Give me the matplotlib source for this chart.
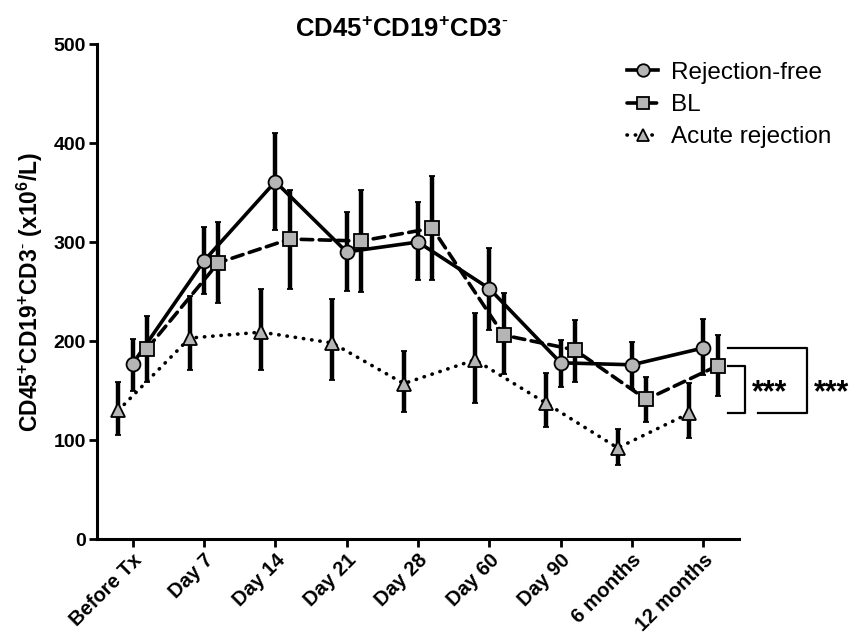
import numpy as np
from matplotlib import pyplot as plt
from matplotlib.lines import Line2D

plt.rcParams['font.family'] = ['Liberation Sans', 'DejaVu Sans']
plt.rcParams['mathtext.fontset'] = 'custom'
plt.rcParams['mathtext.rm'] = 'Liberation Sans'
plt.rcParams['mathtext.bf'] = 'Liberation Sans:bold'
plt.rcParams['mathtext.it'] = 'Liberation Sans:italic'

timepoints = ['Before Tx', 'Day 7', 'Day 14', 'Day 21', 'Day 28',
              'Day 60', 'Day 90', '6 months', '12 months']

# mean, upper and lower ends of the error bars (x10^6/L)
free_mean = [177, 281, 361, 290, 300, 253, 178, 176, 193]
free_hi = [202, 315, 410, 330, 340, 294, 201, 199, 222]
free_lo = [150, 247, 312, 251, 262, 211, 154, 152, 166]

bl_mean = [192, 279, 303, 301, 314, 206, 191, 141, 175]
bl_hi = [225, 320, 353, 353, 367, 249, 221, 164, 206]
bl_lo = [159, 238, 253, 250, 262, 167, 159, 118, 144]

acute_mean = [130, 203, 209, 198, 157, 181, 137, 92, 127]
acute_hi = [159, 245, 253, 242, 190, 228, 168, 111, 158]
acute_lo = [105, 171, 171, 161, 128, 137, 113, 75, 102]

x = np.arange(len(timepoints))
gray = '#b5b5b5'

fig = plt.figure(figsize=(8.56, 6.37), dpi=100)
ax = fig.add_axes([0.1133, 0.1538, 0.75, 0.7771])

series = [
    ('Rejection-free', free_mean, free_hi, free_lo, 'o', '-', 0.0),
    ('BL', bl_mean, bl_hi, bl_lo, 's', (0, (3.2, 1.8)), 0.2),
    ('Acute rejection', acute_mean, acute_hi, acute_lo, '^', (0, (0.1, 2.2)), -0.2),
]

handles = []
for label, mean, hi, lo, marker, ls, shift in series:
    mean = np.array(mean)
    yerr = [mean - np.array(lo), np.array(hi) - mean]
    line, caps, bars = ax.errorbar(
        x + shift, mean, yerr=yerr, marker=marker, ls=ls, lw=2.6,
        color='black', mfc=gray, mec='black', mew=1.3, ms=10,
        elinewidth=3.2, capsize=2, capthick=3.2)
    line.set_dash_capstyle('round')
    h = Line2D([], [], marker=marker, ls=ls, lw=2.6, color='black',
               mfc=gray, mec='black', mew=1.3, ms=9, label=label)
    h.set_dash_capstyle('round')
    handles.append(h)

ax.set_xlim(-0.5, 8.5)
ax.set_ylim(0, 500)
ax.set_yticks([0, 100, 200, 300, 400, 500])
ax.set_xticks(x)
ax.set_xticklabels(timepoints, rotation=45, ha='right', rotation_mode='anchor',
                   fontsize=14.5, fontweight='bold')
for t in ax.get_yticklabels():
    t.set_fontsize(14)
    t.set_fontweight('bold')

for side in ['top', 'right']:
    ax.spines[side].set_visible(False)
for side in ['left', 'bottom']:
    ax.spines[side].set_linewidth(2.2)
ax.tick_params(direction='out', length=6, width=2, pad=2)

ax.set_ylabel(r'$\mathbf{CD45^{+}CD19^{+}CD3^{\text{-}}\ (x10^{6}/L)}$', fontsize=16.5,
              labelpad=6)
fig.text(0.469, 0.953, r'$\mathbf{CD45^{+}CD19^{+}CD3^{\text{-}}}$', fontsize=18.5,
         ha='center', va='center')

# significance brackets against the 12-month values
last = len(timepoints) - 1
y_free, y_bl, y_acute = free_mean[last], bl_mean[last], acute_mean[last]
kw = dict(color='black', lw=1.6, clip_on=False)
ax.plot([last + 0.35, last + 0.59, last + 0.59, last + 0.35],
        [y_bl, y_bl, y_acute, y_acute], **kw)
ax.plot([last + 0.35, last + 1.45, last + 1.45, last + 0.76],
        [y_free, y_free, y_acute, y_acute], **kw)
ax.text(last + 0.93, (y_bl + y_acute) / 2 - 4, '***', fontsize=22,
        fontweight='bold', ha='center', va='center', clip_on=False)
ax.text(last + 1.80, (y_bl + y_acute) / 2 - 4, '***', fontsize=22,
        fontweight='bold', ha='center', va='center', clip_on=False)

ax.legend(handles=handles, loc='upper left', bbox_to_anchor=(0.718, 0.922),
          bbox_transform=fig.transFigure, frameon=False, fontsize=17.5,
          handlelength=1.3, handletextpad=0.5, labelspacing=0.42,
          borderpad=0)

fig.savefig('out.png', dpi=100)
